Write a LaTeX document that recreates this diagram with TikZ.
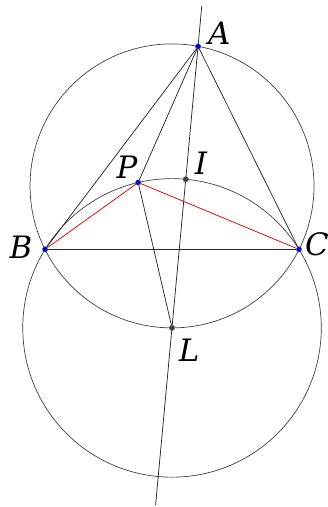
\documentclass[tikz,border=0pt]{standalone}
\usepackage{fontspec}
\setmainfont{DejaVu Serif}
\definecolor{ptblue}{RGB}{0,0,230}
\definecolor{ptgray}{RGB}{64,64,64}
\definecolor{lngray}{RGB}{40,40,40}
\usetikzlibrary{positioning,calc}

\begin{document}
\begin{tikzpicture}[
    ln/.style={line width=0.75pt, lngray},
    circ/.style={line width=0.7pt, black!75},
    seg/.style={line width=0.75pt, red!90!black},
    pt/.style={circle, fill=ptblue, draw=black!60, line width=0.4pt, inner sep=0pt, minimum size=5.5pt},
    aux/.style={circle, fill=ptgray, draw=black!60, line width=0.4pt, inner sep=0pt, minimum size=5.5pt},
    lbl/.style={font=\fontsize{31}{34}\selectfont\itshape, inner sep=0pt}
  ]
    \useasboundingbox (0,0) rectangle (11.54,17.89);

    % Centres and ends of the long line
    \coordinate (O)   at (6.07,11.33);
    \coordinate (Lc)  at (6.07,6.32);
    \coordinate (top) at (7.12,17.68);
    \coordinate (bot) at (5.49,0.07);

    % Circles
    \draw[circ] (O) circle (5.01);
    \draw[circ] (Lc) circle (5.267);
    \draw[ln] (top) -- (bot);

    % Points
    \node[pt]  (A) at (6.99,16.25) {};
    \node[pt]  (B) at (1.59,9.09)  {};
    \node[pt]  (C) at (10.55,9.09) {};
    \node[pt]  (P) at (4.876,11.45) {};
    \node[aux] (I) at (6.556,11.564) {};
    \node[aux] (L) at (Lc) {};

    \draw[ln] (A) -- (B);
    \draw[ln] (A) -- (C);
    \draw[ln] (B) -- (C);
    \draw[ln] (A) -- (P);
    \draw[ln] (P) -- (L);
    \draw[seg] (P) -- (B);
    \draw[seg] (P) -- (C);

    % Labels
    \node[lbl] (lA) at (7.74,16.72) {A};
    \node[lbl] (lB) at (0.74,9.17)  {B};
    \node[lbl] (lC) at (11.18,9.28) {C};
    \node[lbl] (lP) at (4.48,11.99) {P};
    \node[lbl] (lI) at (7.09,12.13) {I};
    \node[lbl] (lL) at (6.67,5.52)  {L};
  \end{tikzpicture}
\end{document}
